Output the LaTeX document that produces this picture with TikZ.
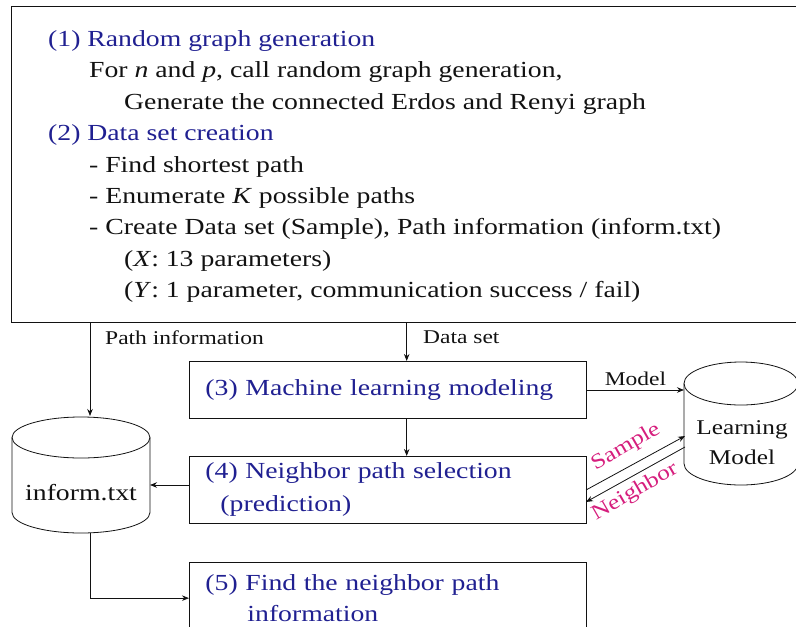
\documentclass[tikz,border=0pt]{standalone}
\usepackage{fontspec}
\setmainfont[FakeStretch=1.205]{Liberation Serif}
\usetikzlibrary{arrows.meta,calc}
\definecolor{hblue}{RGB}{32,32,145}
\definecolor{mag}{RGB}{214,30,125}
\definecolor{ink}{RGB}{18,18,18}
\tikzset{
  main/.style={font=\fontsize{23}{31}\selectfont, text=ink, inner sep=0pt},
  head/.style={main, text=hblue},
  lbl/.style={font=\fontsize{19.5}{24}\selectfont, text=ink, inner sep=0pt},
  maglbl/.style={font=\fontsize{21}{24}\selectfont, text=mag, inner sep=0pt},
  stepbox/.style={draw=ink, line width=0.9pt, anchor=north west, minimum width=397pt,
     text width=365pt, inner xsep=16pt, inner ysep=0pt, align=left, text=hblue,
     font=\fontsize{23}{31}\selectfont},
  conn/.style={draw=ink, line width=0.8pt, -{Stealth[length=7pt,width=5.5pt]}},
  cyl/.style={draw=ink, line width=0.8pt}
}
\begin{document}
\begin{tikzpicture}[x=1pt,y=-1pt]
\useasboundingbox (0,0) rectangle (796,627);
% top panel (open on the right)
\draw[ink, line width=0.9pt] (796,6) -- (11,6) -- (11,322) -- (796,322);
\coordinate (pinfo) at (90,322);
\coordinate (dset) at (406.7,322);
\node[head, anchor=base west] (l1) at (48,46.5) {(1) Random graph generation};
\node[main, anchor=base west] (l2) at (89,77.9) {For \textit{n} and \textit{p}, call random graph generation,};
\node[main, anchor=base west] (l3) at (124,109.3) {Generate the connected Erdos and Renyi graph};
\node[head, anchor=base west] (l4) at (48,140.7) {(2) Data set creation};
\node[main, anchor=base west] (l5) at (89,172.1) {- Find shortest path};
\node[main, anchor=base west] (l6) at (89,203.5) {- Enumerate \textit{K} possible paths};
\node[main, anchor=base west] (l7) at (89,234.9) {- Create Data set (Sample), Path information (inform.txt)};
\node[main, anchor=base west] (l8) at (124,266.3) {(\textit{X}: 13 parameters)};
\node[main, anchor=base west] (l9) at (124,297.7) {(\textit{Y}: 1 parameter, communication success / fail)};

% step boxes
\node[stepbox, minimum height=57pt] (b3) at (189,361) {(3) Machine learning modeling};
\node[stepbox, minimum height=67pt] (b4) at (189,456) {(4) Neighbor path selection\\[2pt]\hspace*{15pt}(prediction)};
\node[stepbox, minimum height=72pt] (b5) at (189,561.7) {(5) Find the neighbor path\\\hspace*{42pt}information};

% inform.txt cylinder
\draw[cyl] (81,437.5) ellipse [x radius=69pt, y radius=20.5pt];
\draw[cyl] (12,437.5) -- (12,512.5) .. controls (12,523.8) and (42.9,533) .. (81,533)
   .. controls (119.1,533) and (150,523.8) .. (150,512.5) -- (150,437.5);
\node[main] (inf) at (81,493) {inform.txt};
\coordinate (infT) at (90,416);
\coordinate (infR) at (150,485);
\coordinate (infB) at (90,533);

% Learning model cylinder
\draw[cyl] (741,383.5) ellipse [x radius=57pt, y radius=21.5pt];
\draw[cyl] (684,383.5) -- (684,463.5) .. controls (684,475.4) and (709.5,485) .. (741,485)
   .. controls (772.5,485) and (798,475.4) .. (798,463.5) -- (798,383.5);
\node[main, align=center, font=\fontsize{21}{30}\selectfont] (lm) at (742,443) {Learning\\Model};
\coordinate (lmM) at (684,390);
\coordinate (lmS) at (685,436);
\coordinate (lmN) at (685,447);
\coordinate (b4S) at (586,490);
\coordinate (b4N) at (586,502);

% connectors
\draw[conn] (pinfo) -- (infT);
\node[lbl, anchor=west] (lpi) at (105,337.5) {Path information};
\draw[conn] (dset) -- (dset |- b3.north);
\node[lbl, anchor=west] (lds) at (423,337.5) {Data set};
\draw[conn] (dset |- b3.south) -- (dset |- b4.north);
\draw[conn] (b3.east |- lmM) -- node[lbl, above=4pt] (lmo) {Model} (lmM);
\draw[conn] (b4.west |- infR) -- (infR);
\draw[conn] (infB) |- (b5.west);
\draw[conn] (b4S) -- (lmS);
\draw[conn, {Stealth[length=7pt,width=5.5pt]}-] (b4N) -- (lmN);
\node[maglbl, rotate=30] (ls) at (626,447) {Sample};
\node[maglbl, rotate=30] (ln) at (635,492) {Neighbor};
\end{tikzpicture}
\end{document}
